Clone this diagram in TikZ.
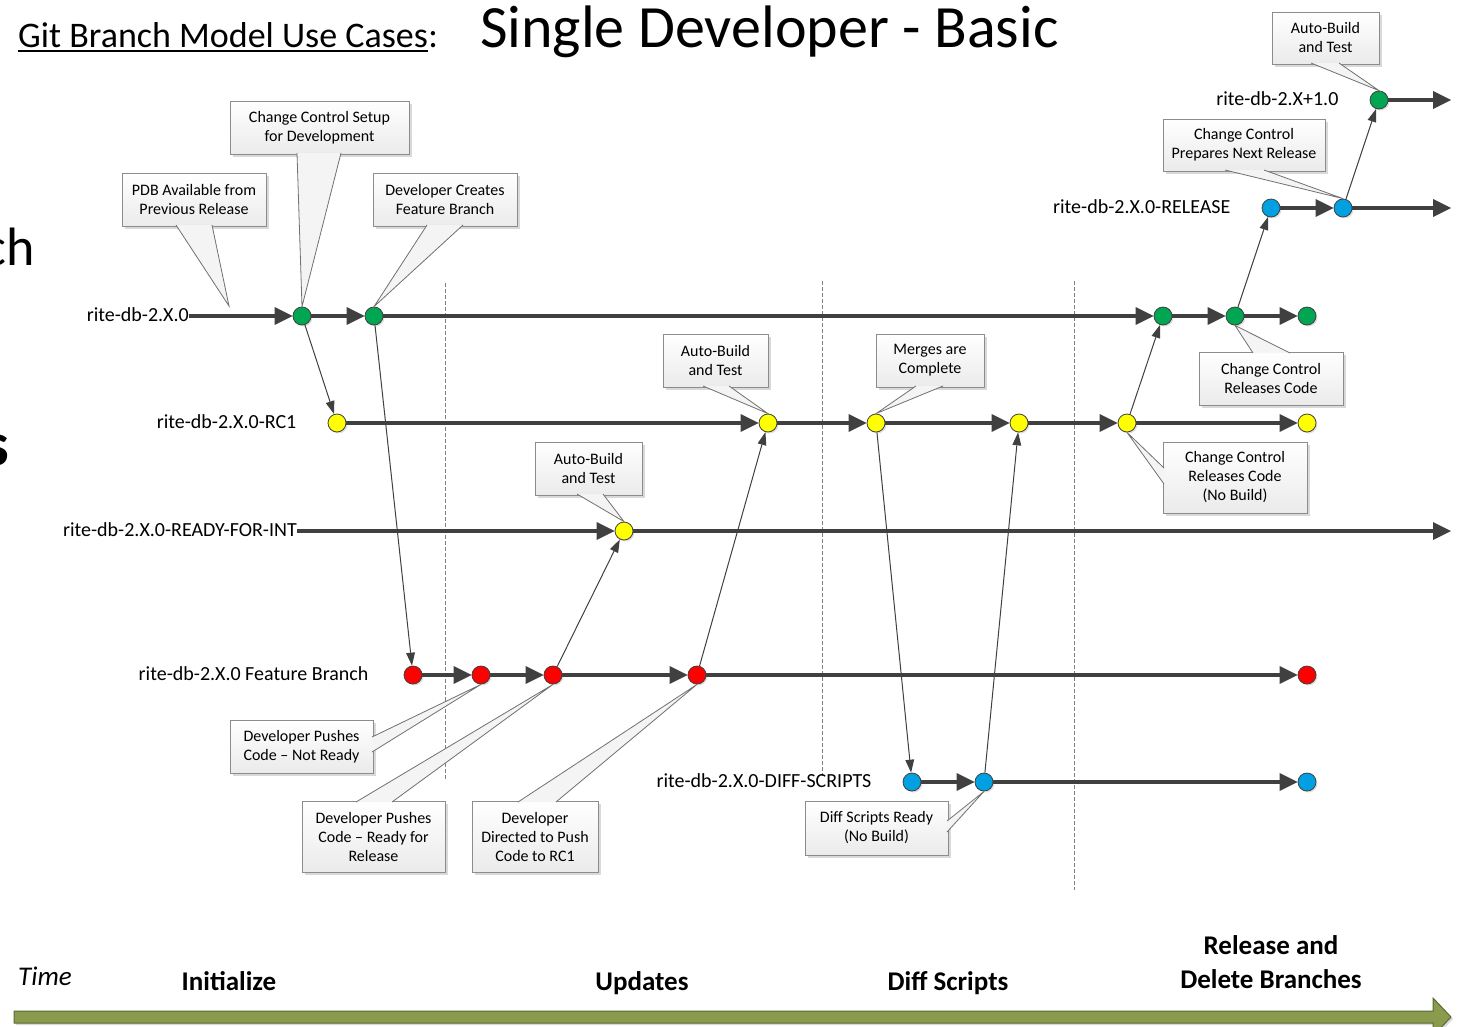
\documentclass[tikz,border=0pt]{standalone}
\usepackage{fontspec}
\setmainfont{Carlito}
\usetikzlibrary{arrows.meta,positioning,calc,shadows}

\definecolor{linegray}{HTML}{404040}
\definecolor{boxgray}{HTML}{8C8C8C}
\definecolor{cgreen}{HTML}{00A651}
\definecolor{cyellow}{HTML}{FFFF00}
\definecolor{cred}{HTML}{FF0000}
\definecolor{cblue}{HTML}{00A0E2}
\definecolor{timegreen}{HTML}{8A9B4D}
\definecolor{timeedge}{HTML}{5A6A36}

\begin{document}
\begin{tikzpicture}[x=1pt, y=-1pt,
    commit/.style={circle, draw=linegray, line width=0.8pt, minimum size=18pt, inner sep=0pt,
        drop shadow={shadow xshift=1.5pt, shadow yshift=-1.5pt, opacity=0.25}},
    branchlbl/.style={inner sep=0pt, yshift=1pt, font=\fontsize{20}{24}\selectfont},
    branch/.style={draw=linegray, line width=4.5pt, -{Triangle[length=18pt, width=18pt, line width=0pt]}},
    merge/.style={draw=linegray, line width=1pt, -{Triangle[length=13pt, width=9pt, line width=0pt]}},
    callbox/.style={rectangle, draw=boxgray, line width=0.8pt, top color=white, bottom color=gray!16,
        align=center, inner sep=0pt, font=\fontsize{16}{19}\selectfont,
        drop shadow={shadow xshift=2.5pt, shadow yshift=-2.5pt, opacity=0.3}},
    wedge/.style={draw=boxgray!80!black, line width=0.8pt, fill=gray!9},
    phasesep/.style={draw=gray, line width=0.8pt, dash pattern=on 4pt off 2pt},
    phase/.style={align=center, inner sep=0pt, font=\bfseries\fontsize{27}{34}\selectfont},
    timeline/.style={fill=timegreen, draw=timeedge, line width=1pt,
        drop shadow={shadow xshift=2pt, shadow yshift=-2pt, opacity=0.3}}
]
    \useasboundingbox (0,0) rectangle (1468,1026);
    \clip (0,0) rectangle (1468,1026);

    % Title
    \node[anchor=base west, inner sep=0pt, font=\fontsize{36}{40}\selectfont] (title) at (18,47) {Git Branch Model Use Cases};
    \node[anchor=base west, inner sep=0pt, font=\fontsize{36}{40}\selectfont] (colon) at (title.base east) {:};
    \draw[line width=2pt] ($(title.base west)+(0,4)$) -- ($(title.base east)+(0,4)$);
    \node[anchor=base west, inner sep=0pt, font=\fontsize{60}{66}\selectfont] (subtitle) at (480,47) {Single Developer - Basic};

    % Cut-off letters at the left edge
    \node[anchor=base east, inner sep=0pt, font=\fontsize{54}{60}\selectfont] (cut1) at (35,265) {ch};
    \node[anchor=base east, inner sep=0pt, font=\bfseries\fontsize{62}{66}\selectfont] (cut2) at (9,465) {s};

    % Phase separators
    \draw[phasesep] (445,283) -- (445,780);
    \draw[phasesep] (822,281) -- (822,776);
    \draw[phasesep] (1074,281) -- (1074,890);

    % Commits
    \node[commit, fill=cgreen] (n1) at (1379,100) {};
    \node[commit, fill=cblue] (rel1) at (1271,208) {};
    \node[commit, fill=cblue] (rel2) at (1343,208) {};
    \node[commit, fill=cgreen] (m1) at (302,316) {};
    \node[commit, fill=cgreen] (m2) at (374,316) {};
    \node[commit, fill=cgreen] (m3) at (1163,316) {};
    \node[commit, fill=cgreen] (m4) at (1235,316) {};
    \node[commit, fill=cgreen] (m5) at (1307,316) {};
    \node[commit, fill=cyellow] (rc1) at (337,423) {};
    \node[commit, fill=cyellow] (rc2) at (768,423) {};
    \node[commit, fill=cyellow] (rc3) at (876,423) {};
    \node[commit, fill=cyellow] (rc4) at (1019,423) {};
    \node[commit, fill=cyellow] (rc5) at (1127,423) {};
    \node[commit, fill=cyellow] (rc6) at (1307,423) {};
    \node[commit, fill=cyellow] (int1) at (624,531) {};
    \node[commit, fill=cred] (f1) at (413,675) {};
    \node[commit, fill=cred] (f2) at (481,675) {};
    \node[commit, fill=cred] (f3) at (553,675) {};
    \node[commit, fill=cred] (f4) at (697,675) {};
    \node[commit, fill=cred] (f5) at (1307,675) {};
    \node[commit, fill=cblue] (d1) at (912,782) {};
    \node[commit, fill=cblue] (d2) at (984,782) {};
    \node[commit, fill=cblue] (d3) at (1307,782) {};

    % Branch names
    \node[branchlbl, left=31pt of n1] (lnext) {rite-db-2.X+1.0};
    \node[branchlbl, left=31pt of rel1] (lrel) {rite-db-2.X.0-RELEASE};
    \node[branchlbl, anchor=east] (lmaster) at (189,316) {rite-db-2.X.0};
    \node[branchlbl, left=31pt of rc1] (lrc) {rite-db-2.X.0-RC1};
    \node[branchlbl, anchor=east] (lint) at (297,531) {rite-db-2.X.0-READY-FOR-INT};
    \node[branchlbl, left=35pt of f1] (lfeat) {rite-db-2.X.0 Feature Branch};
    \node[branchlbl, left=31pt of d1] (ldiff) {rite-db-2.X.0-DIFF-SCRIPTS};

    \coordinate (nend) at (1451,100);
    \coordinate (relend) at (1451,208);
    \coordinate (intend) at (1451,531);

    % Branch lines
    \draw[branch] (n1) -- (nend);
    \draw[branch] (rel1) -- (rel2);
    \draw[branch] (rel2) -- (relend);
    \draw[branch] (lmaster.east |- m1) -- (m1);
    \draw[branch] (m1) -- (m2);
    \draw[branch] (m2) -- (m3);
    \draw[branch] (m3) -- (m4);
    \draw[branch] (m4) -- (m5);
    \draw[branch] (rc1) -- (rc2);
    \draw[branch] (rc2) -- (rc3);
    \draw[branch] (rc3) -- (rc4);
    \draw[branch] (rc4) -- (rc5);
    \draw[branch] (rc5) -- (rc6);
    \draw[branch] (lint.east |- int1) -- (int1);
    \draw[branch] (int1) -- (intend);
    \draw[branch] (f1) -- (f2);
    \draw[branch] (f2) -- (f3);
    \draw[branch] (f3) -- (f4);
    \draw[branch] (f4) -- (f5);
    \draw[branch] (d1) -- (d2);
    \draw[branch] (d2) -- (d3);

    % Merges between branches
    \draw[merge] (m1) -- (rc1);
    \draw[merge] (m2) -- (f1);
    \draw[merge] (f3) -- (int1);
    \draw[merge] (f4) -- (rc2);
    \draw[merge] (rc3) -- (d1);
    \draw[merge] (d2) -- (rc4);
    \draw[merge] (rc5) -- (m3);
    \draw[merge] (m4) -- (rel1);
    \draw[merge] (rel2) -- (n1);

    % Callouts
    \coordinate (pdbtip) at (229,306);
    \node[callbox, minimum width=144pt, minimum height=53pt] (cpdb) at (194,199.5) {PDB Available from\\Previous Release};
    \filldraw[wedge] (176,225) -- (pdbtip) -- (212,225);

    \node[callbox, minimum width=179pt, minimum height=53pt] (csetup) at (319.5,127.5) {Change Control Setup\\for Development};
    \filldraw[wedge] (297,153) -- (m1.north) -- (341,153);

    \node[callbox, minimum width=144pt, minimum height=53pt] (ccreate) at (445,199.5) {Developer Creates\\Feature Branch};
    \filldraw[wedge] (427,225) -- (m2.north) -- (463,225);

    \node[callbox, minimum width=107pt, minimum height=52pt] (cauto3) at (1325.5,38) {Auto-Build\\and Test};
    \filldraw[wedge] (1311,63) -- (n1.north) -- (1339,63);

    \node[callbox, minimum width=162pt, minimum height=52pt] (cprep) at (1244,145) {Change Control\\Prepares Next Release};
    \filldraw[wedge] (1225,170) -- (rel2.north) -- (1264,170);

    \node[callbox, minimum width=105pt, minimum height=53pt] (cauto1) at (715.5,360.5) {Auto-Build\\and Test};
    \filldraw[wedge] (703,386) -- (rc2.north) -- (729,386);

    \node[callbox, minimum width=108pt, minimum height=53pt] (cmerge) at (930,360.5) {Merges are\\Complete};
    \filldraw[wedge] (916,386) -- (rc3.north) -- (943,386);

    \node[callbox, minimum width=107pt, minimum height=53pt] (cauto2) at (588.5,468.5) {Auto-Build\\and Test};
    \filldraw[wedge] (577,494) -- (int1.north) -- (603,494);

    \node[callbox, minimum width=144pt, minimum height=53pt] (crel) at (1271,378.5) {Change Control\\Releases Code};
    \filldraw[wedge] (1253,353) -- (m4.south) -- (1290,353);

    \node[callbox, minimum width=144pt, minimum height=71pt] (crelnb) at (1235,477.5) {Change Control\\Releases Code\\(No Build)};
    \filldraw[wedge] (1164,468) -- (rc5.south) -- (1164,484);

    \node[callbox, minimum width=143pt, minimum height=53pt] (cnotready) at (301.5,746.5) {Developer Pushes\\Code -- Not Ready};
    \filldraw[wedge] (372,737) -- (f2.south) -- (372,752);

    \node[callbox, minimum width=143pt, minimum height=71pt] (cready) at (373.5,836.5) {Developer Pushes\\Code -- Ready for\\Release};
    \filldraw[wedge] (356,802) -- (f3.south) -- (392,802);

    \node[callbox, minimum width=126pt, minimum height=71pt] (cdirect) at (535,836.5) {Developer\\Directed to Push\\Code to RC1};
    \filldraw[wedge] (518,802) -- (f4.south) -- (556,802);

    \node[callbox, minimum width=143pt, minimum height=54pt] (cdiff) at (876.5,828) {Diff Scripts Ready\\(No Build)};
    \filldraw[wedge] (947,821) -- (d2.south) -- (947,832);

    % Time line
    \node[anchor=base west, inner sep=0pt, font=\itshape\fontsize{27}{30}\selectfont] (time) at (18,985) {Time};
    \node[phase, anchor=base] (pinit) at (229,990) {Initialize};
    \node[phase, anchor=base] (pupd) at (642,990) {Updates};
    \node[phase, anchor=base] (pdiff) at (948,990) {Diff Scripts};
    \node[phase] (prel) at (1271,962) {Release and\\Delete Branches};
    \filldraw[timeline] (14,1011) -- (1433,1011) -- (1433,998) -- (1451,1017) -- (1433,1036) -- (1433,1023) -- (14,1023) -- cycle;

\end{tikzpicture}
\end{document}
